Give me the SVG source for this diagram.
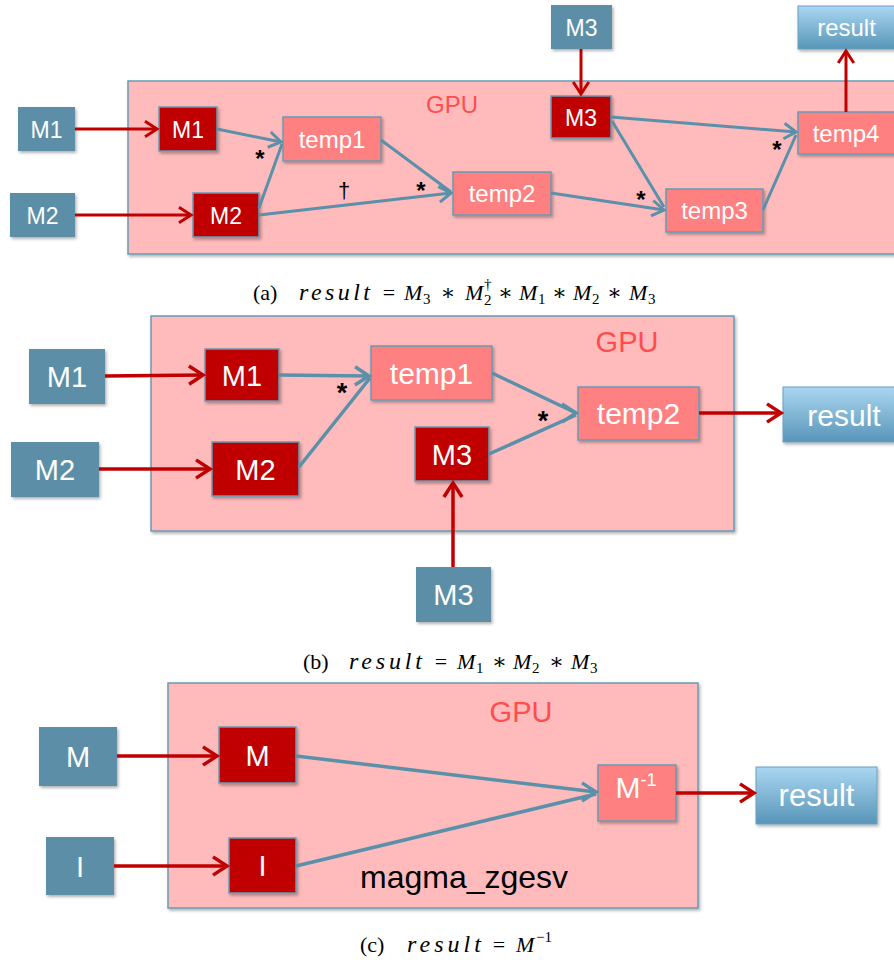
<svg xmlns="http://www.w3.org/2000/svg" width="894" height="963" viewBox="0 0 894 963">
<defs>
<style>
.gpu{fill:#FFBBBB;stroke:#6A9AB5;stroke-width:1.5;filter:url(#sh)}
.gl{font-family:"Liberation Sans",Arial,sans-serif;fill:#FF4D4D;text-anchor:middle}
.in{fill:#5B8FA7;filter:url(#sh)}
.dk{fill:#C00000;stroke:#6A9AB5;stroke-width:1.5;filter:url(#sh)}
.tp{fill:#FF8080;stroke:#6A9AB5;stroke-width:1.5;filter:url(#sh)}
.rs{fill:url(#rg);stroke:#6AA0C0;stroke-width:1;filter:url(#sh)}
.t{font-family:"Liberation Sans",Arial,sans-serif;fill:#fff;text-anchor:middle}
.k{font-family:"Liberation Sans",Arial,sans-serif;fill:#000}
.r{fill:none;stroke:#C00000;stroke-width:3}
.b{fill:none;stroke:#5A90AA;stroke-width:3}
.w{stroke-width:3.5}
.cap{font-family:"Liberation Serif","DejaVu Serif",serif;font-size:22px;fill:#000}
.i{font-style:italic}
.rw{font-size:24px}
.s{font-size:15px}
.op{text-anchor:middle}
</style>
<linearGradient id="rg" x1="0" y1="0" x2="0" y2="1">
<stop offset="0" stop-color="#AAD7F1"/>
<stop offset="1" stop-color="#5895B8"/>
</linearGradient>
<filter id="sh" x="-10%" y="-10%" width="130%" height="140%">
<feDropShadow dx="1.5" dy="2" stdDeviation="1.5" flood-color="#000" flood-opacity="0.3"/>
</filter>
<marker id="mr" viewBox="-5 -3 6 6" refX="0" refY="0" markerWidth="6" markerHeight="6" orient="auto" overflow="visible">
<path d="M-4,-2.6 L0,0 L-4,2.6" fill="none" stroke="#C00000" stroke-width="1"/>
</marker>
<marker id="mb" viewBox="-5 -3 6 6" refX="0" refY="0" markerWidth="6" markerHeight="6" orient="auto" overflow="visible">
<path d="M-4,-2.6 L0,0 L-4,2.6" fill="none" stroke="#5A90AA" stroke-width="1"/>
</marker>
<marker id="mb0" viewBox="-5 -3 6 6" refX="0" refY="0" markerWidth="6" markerHeight="6" orient="0" overflow="visible">
<path d="M-4,-2.6 L0,0 L-4,2.6" fill="none" stroke="#5A90AA" stroke-width="1"/>
</marker>
</defs>
<rect width="894" height="963" fill="#fff"/>

<!-- Panel (a) -->
<g id="a_gpu"><rect class="gpu" x="128" y="81" width="780" height="173"/><text class="gl" x="452" y="113" font-size="24">GPU</text></g>
<g id="a_in_M1"><rect class="in" x="18" y="107" width="57" height="44"/><text class="t" x="46.5" y="137.5" font-size="23">M1</text></g>
<g id="a_in_M2"><rect class="in" x="10" y="193" width="65" height="44"/><text class="t" x="42.5" y="223.5" font-size="23">M2</text></g>
<g id="a_gpu_M1"><rect class="dk" x="159" y="107" width="58" height="44"/><text class="t" x="188" y="137.5" font-size="23">M1</text></g>
<g id="a_gpu_M2"><rect class="dk" x="193" y="193" width="66" height="44"/><text class="t" x="226" y="223.5" font-size="23">M2</text></g>
<g id="a_temp1"><rect class="tp" x="283" y="117" width="98" height="44"/><text class="t" x="332" y="147.5" font-size="24">temp1</text></g>
<g id="a_temp2"><rect class="tp" x="453" y="172" width="98" height="43"/><text class="t" x="502" y="202" font-size="24">temp2</text></g>
<g id="a_gpu_M3"><rect class="dk" x="551" y="96" width="60" height="42"/><text class="t" x="581" y="125.5" font-size="23">M3</text></g>
<g id="a_temp3"><rect class="tp" x="666" y="189" width="97" height="43"/><text class="t" x="714.5" y="219" font-size="24">temp3</text></g>
<g id="a_temp4"><rect class="tp" x="798" y="112" width="100" height="42"/><text class="t" x="846" y="141.5" font-size="24">temp4</text></g>
<g id="a_in_M3"><rect class="in" x="551" y="5" width="61" height="44"/><text class="t" x="581.5" y="35.5" font-size="23">M3</text></g>
<g id="a_result"><rect class="rs" x="798" y="6" width="100" height="43"/><text class="t" x="846.5" y="36" font-size="24">result</text></g>

<!-- Panel (b) -->
<g id="b_gpu"><rect class="gpu" x="151" y="316" width="583" height="215"/><text class="gl" x="627" y="352" font-size="29">GPU</text></g>
<g id="b_in_M1"><rect class="in" x="29" y="349" width="76" height="55"/><text class="t" x="67" y="387" font-size="29">M1</text></g>
<g id="b_in_M2"><rect class="in" x="11" y="442" width="88" height="55"/><text class="t" x="55" y="480" font-size="29">M2</text></g>
<g id="b_gpu_M1"><rect class="dk" x="205" y="349" width="74" height="52"/><text class="t" x="242" y="385.5" font-size="29">M1</text></g>
<g id="b_gpu_M2"><rect class="dk" x="212" y="442" width="87" height="54"/><text class="t" x="255.5" y="479.5" font-size="29">M2</text></g>
<g id="b_temp1"><rect class="tp" x="371" y="346" width="121" height="54"/><text class="t" x="431.5" y="383.5" font-size="30">temp1</text></g>
<g id="b_gpu_M3"><rect class="dk" x="415" y="427" width="74" height="54"/><text class="t" x="452" y="464.5" font-size="29">M3</text></g>
<g id="b_temp2"><rect class="tp" x="578" y="387" width="121" height="53"/><text class="t" x="638.5" y="424" font-size="30">temp2</text></g>
<g id="b_result"><rect class="rs" x="783" y="387" width="112" height="55"/><text class="t" x="844" y="425.5" font-size="30">result</text></g>
<g id="b_in_M3"><rect class="in" x="416" y="567" width="75" height="55"/><text class="t" x="453.5" y="605" font-size="29">M3</text></g>

<!-- Panel (c) -->
<g id="c_gpu"><rect class="gpu" x="168" y="683" width="530" height="225"/><text class="gl" x="521" y="722" font-size="29">GPU</text><text class="k" x="360" y="888" font-size="32">magma_zgesv</text></g>
<g id="c_in_M"><rect class="in" x="39" y="727" width="78" height="59"/><text class="t" x="78" y="767" font-size="29">M</text></g>
<g id="c_in_I"><rect class="in" x="46" y="837" width="68" height="58"/><text class="t" x="80" y="877" font-size="29">I</text></g>
<g id="c_gpu_M"><rect class="dk" x="219" y="727" width="77" height="56"/><text class="t" x="257.5" y="766" font-size="29">M</text></g>
<g id="c_gpu_I"><rect class="dk" x="229" y="838" width="67" height="55"/><text class="t" x="262.5" y="876" font-size="29">I</text></g>
<g id="c_Minv"><rect class="tp" x="598" y="765" width="78" height="56"/><text class="t" x="636" y="798" font-size="30">M<tspan font-size="18" dy="-12">-1</tspan></text></g>
<g id="c_result"><rect class="rs" x="756" y="767" width="121" height="57"/><text class="t" x="816.5" y="806" font-size="31">result</text></g>

<!-- Connectors -->
<g id="connectors">
<!-- (a) -->
<line class="r" x1="75" y1="129" x2="157" y2="129" marker-end="url(#mr)"/>
<line class="r" x1="75" y1="215" x2="191" y2="215" marker-end="url(#mr)"/>
<line class="r" x1="581" y1="49" x2="581" y2="94" marker-end="url(#mr)"/>
<line class="r" x1="846" y1="112" x2="846" y2="51" marker-end="url(#mr)"/>
<line class="b" x1="217" y1="129" x2="281" y2="142" marker-end="url(#mb)"/>
<line class="b" x1="259" y1="208" x2="282" y2="144"/>
<line class="b" x1="381" y1="140" x2="451" y2="192"/>
<line class="b" x1="259" y1="215" x2="451" y2="193" marker-end="url(#mb)"/>
<line class="b" x1="551" y1="193" x2="664" y2="210" marker-end="url(#mb)"/>
<line class="b" x1="611" y1="117" x2="796" y2="132" marker-end="url(#mb)"/>
<line class="b" x1="612" y1="121" x2="664" y2="207"/>
<line class="b" x1="763" y1="210" x2="796" y2="135"/>
<!-- (b) -->
<line class="r w" x1="105" y1="376" x2="203" y2="375" marker-end="url(#mr)"/>
<line class="r w" x1="99" y1="469" x2="210" y2="469" marker-end="url(#mr)"/>
<line class="r w" x1="699" y1="413" x2="781" y2="413" marker-end="url(#mr)"/>
<line class="r w" x1="453" y1="567" x2="453" y2="483" marker-end="url(#mr)"/>
<line class="b w" x1="279" y1="375" x2="369" y2="376" marker-end="url(#mb)"/>
<line class="b w" x1="299" y1="467" x2="370" y2="378"/>
<line class="b w" x1="492" y1="373" x2="576" y2="413" marker-end="url(#mb0)"/>
<line class="b w" x1="489" y1="454" x2="576" y2="415"/>
<!-- (c) -->
<line class="r w" x1="117" y1="756" x2="217" y2="756" marker-end="url(#mr)"/>
<line class="r w" x1="114" y1="866" x2="227" y2="866" marker-end="url(#mr)"/>
<line class="r w" x1="676" y1="793" x2="754" y2="793" marker-end="url(#mr)"/>
<line class="b w" x1="296" y1="756" x2="596" y2="792" marker-end="url(#mb0)"/>
<line class="b w" x1="296" y1="866" x2="596" y2="794"/>
</g>

<!-- edge labels -->
<g id="labels" font-family="'Liberation Sans',Arial,sans-serif" font-weight="bold" fill="#000" text-anchor="middle">
<text x="260" y="167" font-size="24">*</text>
<text x="344" y="198" font-size="22" font-weight="normal">†</text>
<text x="421" y="199" font-size="24">*</text>
<text x="641" y="208" font-size="24">*</text>
<text x="777" y="158" font-size="24">*</text>
<text x="342" y="402" font-size="27">*</text>
<text x="543" y="430" font-size="27">*</text>
</g>

<!-- captions -->
<g id="captions" class="cap">
<text x="253" y="300">(a)</text>
<text class="i rw" x="299" y="300" textLength="71" lengthAdjust="spacing">result</text>
<text class="op" x="389" y="300">=</text>
<text class="i" x="404" y="300">M</text><text class="s" x="423" y="304">3</text>
<text class="op" x="448" y="300">∗</text>
<text class="i" x="465" y="300">M</text><text class="s" x="484" y="289" font-size="13">†</text><text class="s" x="484" y="305">2</text>
<text class="op" x="505.5" y="300">∗</text>
<text class="i" x="519" y="300">M</text><text class="s" x="538" y="304">1</text>
<text class="op" x="559.5" y="300">∗</text>
<text class="i" x="573" y="300">M</text><text class="s" x="592" y="304">2</text>
<text class="op" x="614.5" y="300">∗</text>
<text class="i" x="629" y="300">M</text><text class="s" x="648" y="304">3</text>

<text x="303" y="669">(b)</text>
<text class="i rw" x="349" y="669" textLength="73" lengthAdjust="spacing">result</text>
<text class="op" x="441" y="669">=</text>
<text class="i" x="457" y="669">M</text><text class="s" x="476" y="673">1</text>
<text class="op" x="499.5" y="669">∗</text>
<text class="i" x="513" y="669">M</text><text class="s" x="532" y="673">2</text>
<text class="op" x="556.5" y="669">∗</text>
<text class="i" x="571" y="669">M</text><text class="s" x="590" y="673">3</text>

<text x="360" y="952">(c)</text>
<text class="i rw" x="407" y="952" textLength="74" lengthAdjust="spacing">result</text>
<text class="op" x="499" y="952">=</text>
<text class="i" x="516" y="952">M</text><text class="s" x="536" y="942">−1</text>
</g>
</svg>
